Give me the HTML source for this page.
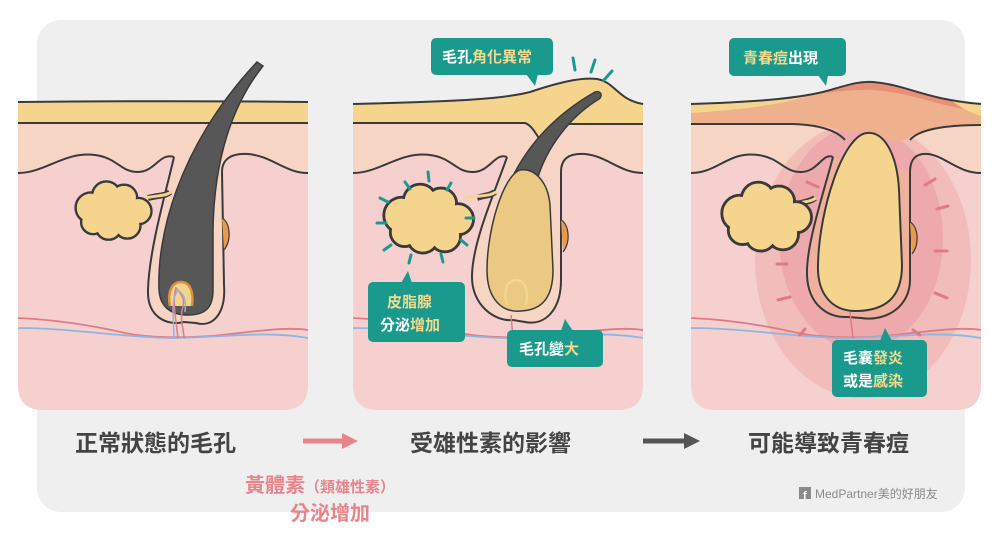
<!DOCTYPE html>
<html><head><meta charset="utf-8"><style>
html,body{margin:0;padding:0;background:#fff;}
svg{display:block;}
text{font-family:"Liberation Sans","Noto Sans CJK TC",sans-serif;}
</style></head><body>
<svg width="1000" height="545" viewBox="0 0 1000 545" xmlns="http://www.w3.org/2000/svg">
<defs>
<clipPath id="c1"><path d="M18,102 H308 V385 Q308,410 283,410 H43 Q18,410 18,385 Z"/></clipPath>
<clipPath id="c2"><path d="M18,104 C100,102 165,100 195,92 C222,83 245,77 262,79 C280,82 283,100 308,104 V385 Q308,410 283,410 H43 Q18,410 18,385 Z"/></clipPath>
<clipPath id="c3"><path d="M18,104 C80,102 120,99 150,92 C175,85 185,81 200,82 C235,85 250,99 308,104 V385 Q308,410 283,410 H43 Q18,410 18,385 Z"/></clipPath>
<g id="gland">
 <g stroke="#3a3a3a" stroke-width="2.2" fill="#f5d58e">
  <circle cx="-20" cy="-2" r="14"/><circle cx="-6" cy="-13" r="13"/><circle cx="10" cy="-11" r="12"/>
  <circle cx="23" cy="1" r="12"/><circle cx="13" cy="14" r="12"/><circle cx="-4" cy="15" r="12"/>
  <circle cx="-18" cy="11" r="11"/>
 </g>
 <g fill="#f5d58e">
  <circle cx="-20" cy="-2" r="12.8"/><circle cx="-6" cy="-13" r="11.8"/><circle cx="10" cy="-11" r="10.8"/>
  <circle cx="23" cy="1" r="10.8"/><circle cx="13" cy="14" r="10.8"/><circle cx="-4" cy="15" r="10.8"/>
  <circle cx="-18" cy="11" r="9.8"/><circle cx="0" cy="1" r="19"/>
 </g>
</g>
</defs>

<rect x="37" y="20" width="928" height="492" rx="24" fill="#efefef"/>

<!-- PANEL 1 -->
<g clip-path="url(#c1)">
 <rect x="0" y="40" width="320" height="380" fill="#f5d0cf"/>
 <path d="M18,103 H308 V173 C285,173 272,156 248,154 C230,153 224,160 222,170 L174,157 C162,152 155,172 138,172 C120,172 118,158 95,155 C65,151 45,173 18,173 Z" fill="#f6d5c4"/>
 <path d="M18,173 C45,173 65,151 95,155 C118,158 120,172 138,172 C155,172 160,152 174,157 M222,172 C222,160 230,153 248,154 C272,156 285,173 308,173" fill="none" stroke="#3a3a3a" stroke-width="2"/>
 <rect x="18" y="102" width="290" height="21" fill="#f5d58e"/>
 <path d="M18,123 H308" stroke="#3a3a3a" stroke-width="2" fill="none"/>
 <path d="M174,157 C166,192 149,250 148,290 C147,318 168,326 184,322 L196,323 C214,328 226,312 224,285 L222,172" fill="#f6d5c4" stroke="#3a3a3a" stroke-width="2"/>
 <path d="M222,218 C230,222 232,240 224,250" fill="#e89a4c" stroke="#3a3a3a" stroke-width="1.2"/>
 <path d="M18,318 C60,320 95,326 125,333 C155,339 200,338 230,334 C265,330 290,327 308,330" stroke="#e07a86" stroke-width="1.8" fill="none"/>
 <path d="M18,328 C70,328 120,337 170,338 C220,338 262,330 308,338" stroke="#8fb6e0" stroke-width="1.8" fill="none"/>
 <path d="M148,198 C160,195 166,196 170,192" stroke="#3a3a3a" stroke-width="6" fill="none"/>
 <path d="M145,198 C160,195 166,196 171,192" stroke="#f5d58e" stroke-width="3" fill="none"/>
 <use href="#gland" transform="translate(113,210) scale(1.1)"/>
</g>
<path d="M18,102 C120,101 220,101 308,102" stroke="#3a3a3a" stroke-width="2" fill="none"/>
<path d="M257,62 L263,66 C232,105 214,160 213,230 L213,290 C213,308 205,315 188,315 C170,315 160,306 159,290 C157,240 175,150 257,62 Z" fill="#575757" stroke="#3a3a3a" stroke-width="1.5"/>
<path d="M170,306 C167,292 172,282 181,282 C190,282 194,292 192,306" fill="#f5d58e" stroke="#e08f3c" stroke-width="2.5"/>
<path d="M178,338 C176,320 172,300 176,288 C182,295 186,300 182,310 C180,322 184,330 184,338" stroke="#e07a86" stroke-width="1.5" fill="none"/>
<path d="M174,338 C174,320 170,300 178,290 C186,296 186,302 185,312" stroke="#8fb6e0" stroke-width="1.5" fill="none"/>

<!-- PANEL 2 -->
<g transform="translate(335,0)">
<g clip-path="url(#c2)">
 <rect x="0" y="40" width="320" height="380" fill="#f5d0cf"/>
 <path d="M18,103 H308 V173 C285,173 272,156 250,154 C232,153 226,160 226,172 L172,157 C160,152 155,172 138,172 C120,172 118,158 95,155 C65,151 45,173 18,173 Z" fill="#f6d5c4"/>
 <path d="M18,173 C45,173 65,151 95,155 C118,158 120,172 138,172 C155,172 160,152 172,157 M226,172 C226,160 232,153 250,154 C272,156 285,173 308,173" fill="none" stroke="#3a3a3a" stroke-width="2"/>
 <path d="M18,100 C100,99 165,97 195,89 C222,80 245,74 262,76 C280,79 283,97 308,101 V125 H230 C224,128 222,135 220,140 L205,140 C200,132 196,125 190,123 H18 Z" fill="#f5d58e"/>
 <path d="M18,123 H190 C196,125 200,132 205,140 M220,140 C222,132 226,126 232,124 H308" stroke="#3a3a3a" stroke-width="2" fill="none"/>
 <path d="M172,157 C160,192 138,240 137,275 C136,305 160,322 178,320 L190,322 C210,326 226,310 226,280 L226,172" fill="#f6d5c4" stroke="#3a3a3a" stroke-width="2"/>
 <path d="M226,220 C234,224 236,242 228,252" fill="#e89a4c" stroke="#3a3a3a" stroke-width="1.2"/>
 <path d="M18,318 C60,320 95,326 125,333 C155,339 200,338 230,334 C265,330 290,327 308,330" stroke="#e07a86" stroke-width="1.8" fill="none"/>
 <path d="M18,328 C70,328 120,337 170,338 C220,338 262,330 308,338" stroke="#8fb6e0" stroke-width="1.8" fill="none"/>
 <path d="M178,338 L176,315" stroke="#e07a86" stroke-width="1.5"/>
 <path d="M142,198 C150,195 155,196 160,192" stroke="#3a3a3a" stroke-width="6" fill="none"/>
 <path d="M130,198 C150,195 155,196 161,192" stroke="#f5d58e" stroke-width="3" fill="none"/>
 <use href="#gland" transform="translate(93,218) scale(1.3)"/>
</g>
 <path d="M18,104 C100,102 165,100 195,92 C222,83 245,77 262,79 C280,82 283,100 308,104" stroke="#3a3a3a" stroke-width="2" fill="none"/>
 <path d="M176,180 C195,140 225,112 260,92 C266,90 268,96 264,99 C236,116 212,146 202,180 Z" fill="#575757" stroke="#3a3a3a" stroke-width="1.5"/>
 <path d="M185,170 C168,176 152,230 152,270 C152,300 168,313 186,311 C205,310 218,300 218,270 L215,205 C213,182 200,168 185,170 Z" fill="#ecc982" stroke="#3a3a3a" stroke-width="1.5"/>
 <path d="M172,305 C168,290 172,280 181,280 C190,280 194,290 191,305" fill="none" stroke="#f3d890" stroke-width="2.5"/>
</g>
<g stroke="#1a9a8c" stroke-width="3" stroke-linecap="round">
 <line x1="428" y1="172" x2="429" y2="181"/><line x1="405" y1="182" x2="410" y2="189"/>
 <line x1="451" y1="183" x2="447" y2="190"/><line x1="380" y1="198" x2="388" y2="202"/>
 <line x1="377" y1="223" x2="386" y2="223"/><line x1="384" y1="250" x2="391" y2="245"/>
 <line x1="409" y1="263" x2="411" y2="255"/><line x1="443" y1="262" x2="441" y2="254"/>
 <line x1="467" y1="245" x2="461" y2="240"/><line x1="474" y1="218" x2="466" y2="218"/>
 <line x1="573" y1="58" x2="575" y2="70"/><line x1="595" y1="60" x2="591" y2="72"/><line x1="612" y1="71" x2="604" y2="80"/>
</g>

<!-- PANEL 3 -->
<g transform="translate(673,0)">
<g clip-path="url(#c3)">
 <rect x="0" y="40" width="320" height="380" fill="#f5d0cf"/>
 <path d="M18,103 H308 V173 C285,173 272,156 255,154 C242,153 237,160 237,172 L160,157 C150,152 145,172 128,172 C110,172 108,158 85,155 C55,151 40,173 18,173 Z" fill="#f6d5c4"/>
 <ellipse cx="190" cy="260" rx="108" ry="138" fill="#f0b8b5" opacity="0.85"/>
 <ellipse cx="188" cy="238" rx="82" ry="112" fill="#eda6aa" opacity="0.85"/>
 <path d="M18,173 C45,173 55,151 85,155 C108,158 110,172 128,172 C145,172 150,152 160,157 M237,172 C237,160 242,153 255,154 C272,156 285,173 308,173" fill="none" stroke="#3a3a3a" stroke-width="2"/>
 <path d="M18,100 C80,99 120,96 150,89 C175,82 185,78 200,79 C235,82 250,96 308,101 V125 C270,125 250,128 235,138 C225,145 215,140 205,135 C190,132 180,130 175,132 C160,128 140,124 120,124 H18 Z" fill="#efb08e"/>
 <path d="M150,89 C175,82 185,78 200,79 C235,82 250,96 308,101 L308,112 C260,105 240,93 200,90 C180,89 165,92 150,93 Z" fill="#e88f78"/>
 <path d="M18,100 C60,100 100,99 150,91 C120,102 90,108 18,113 Z" fill="#f5d58e"/>
 <path d="M308,101 L308,116 C295,112 285,106 275,98 Z" fill="#f5d58e"/>
 <path d="M18,124 H120 C150,125 165,132 172,140 M237,140 C245,130 270,125 308,125" stroke="#3a3a3a" stroke-width="2" fill="none"/>
 <path d="M160,157 C150,195 133,245 134,275 C135,305 155,318 175,317 L188,318 C215,322 237,305 237,280 L237,172" fill="#f0b09e" stroke="#3a3a3a" stroke-width="2"/>
 <path d="M237,222 C245,226 247,244 239,254" fill="#e89a4c" stroke="#3a3a3a" stroke-width="1.2"/>
 <path d="M194,133 C170,135 146,210 145,265 C144,295 160,312 185,311 C212,310 229,298 229,265 L226,190 C224,152 210,131 194,133 Z" fill="#f5d58e" stroke="#3a3a3a" stroke-width="2"/>
 <path d="M18,318 C60,320 95,326 125,333 C155,339 200,338 230,334 C265,330 290,327 308,330" stroke="#e07a86" stroke-width="1.8" fill="none"/>
 <path d="M18,328 C70,328 120,337 170,338 C220,338 262,330 308,338" stroke="#8fb6e0" stroke-width="1.8" fill="none"/>
 <path d="M180,338 L177,312" stroke="#e07a86" stroke-width="1.5"/>
 <path d="M120,205 C130,202 137,202 142,198" stroke="#3a3a3a" stroke-width="6" fill="none"/>
 <path d="M112,205 C130,202 137,202 143,198" stroke="#f5d58e" stroke-width="3" fill="none"/>
 <use href="#gland" transform="translate(93,216) scale(1.3)"/>
</g>
 <path d="M18,104 C80,102 120,99 150,92 C175,85 185,81 200,82 C235,85 250,99 308,104" stroke="#3a3a3a" stroke-width="2" fill="none"/>
</g>
<g stroke="#e07a86" stroke-width="3" stroke-linecap="round">
 <line x1="807" y1="182" x2="818" y2="187"/><line x1="925" y1="185" x2="935" y2="179"/>
 <line x1="937" y1="209" x2="948" y2="206"/><line x1="935" y1="251" x2="947" y2="251"/>
 <line x1="935" y1="293" x2="947" y2="298"/><line x1="777" y1="264" x2="787" y2="264"/>
 <line x1="778" y1="300" x2="790" y2="297"/><line x1="800" y1="335" x2="805" y2="329"/><line x1="913" y1="330" x2="920" y2="335"/>
</g>

<!-- Labels -->
<g font-size="15" font-weight="bold">
 <rect x="431" y="38" width="122" height="37" rx="5" fill="#1a9a8c"/>
 <path d="M526,74 L535,86 L538,74 Z" fill="#1a9a8c"/>
 <text x="442" y="62" fill="#fff">毛孔<tspan fill="#f3d98b">角化異常</tspan></text>

 <rect x="368" y="282" width="97" height="60" rx="5" fill="#1a9a8c"/>
 <path d="M401,283 L408,271 L412,283 Z" fill="#1a9a8c"/>
 <text x="387" y="307" fill="#f3d98b">皮脂腺</text>
 <text x="380" y="330" fill="#fff">分泌<tspan fill="#f3d98b">增加</tspan></text>

 <rect x="507" y="330" width="96" height="37" rx="5" fill="#1a9a8c"/>
 <path d="M561,331 L565,319 L573,331 Z" fill="#1a9a8c"/>
 <text x="519" y="354" fill="#fff">毛孔變<tspan fill="#f3d98b">大</tspan></text>

 <rect x="729" y="38" width="117" height="38" rx="5" fill="#1a9a8c"/>
 <path d="M818,75 L826,86 L828,75 Z" fill="#1a9a8c"/>
 <text x="743" y="63" fill="#f3d98b">青春痘<tspan fill="#fff">出現</tspan></text>

 <rect x="832" y="340" width="95" height="57" rx="5" fill="#1a9a8c"/>
 <path d="M880,341 L885,328 L892,341 Z" fill="#1a9a8c"/>
 <text x="843" y="363" fill="#fff">毛囊<tspan fill="#f3d98b">發炎</tspan></text>
 <text x="843" y="386" fill="#fff">或是<tspan fill="#f3d98b">感染</tspan></text>
</g>

<g font-size="23" font-weight="bold" fill="#444">
 <text x="75" y="451">正常狀態的毛孔</text>
 <text x="410" y="451">受雄性素的影響</text>
 <text x="748" y="451">可能導致青春痘</text>
</g>
<path d="M303,441 H345" stroke="#e8848a" stroke-width="5"/>
<path d="M342,433 L358,441 L342,449 Z" fill="#e8848a"/>
<path d="M643,441 H688" stroke="#555" stroke-width="5"/>
<path d="M684,433 L700,441 L684,449 Z" fill="#555"/>

<text x="245" y="492" font-size="20" font-weight="bold" fill="#e8848a">黃體素<tspan font-size="15">（類雄性素）</tspan></text>
<text x="290" y="520" font-size="20" font-weight="bold" fill="#e8848a">分泌增加</text>

<rect x="799" y="487" width="12" height="12" fill="#8a8a8a"/>
<text x="803" y="499" font-size="11" font-weight="bold" fill="#fff">f</text>
<text x="815" y="498" font-size="12" fill="#8a8a8a">MedPartner美的好朋友</text>
</svg>
</body></html>
